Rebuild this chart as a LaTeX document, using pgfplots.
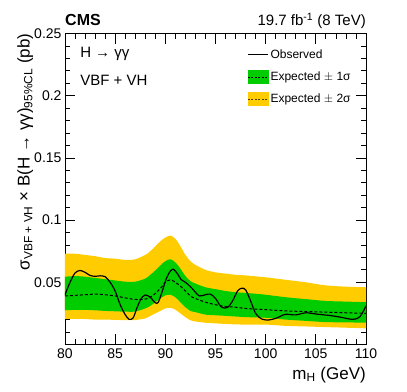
\documentclass[border=0pt]{standalone}
\usepackage{fontspec}
\setmainfont{Liberation Sans}
\usepackage{pgfplots}
\usepackage{pgfplotstable}
\pgfplotsset{compat=1.18}
\usepgfplotslibrary{fillbetween}
\definecolor{yband}{HTML}{FFCC00}
\definecolor{gband}{HTML}{00CC00}
\pgfplotstableread{
x y2d y1d exp y1u y2u
80 0.0205 0.0275 0.039 0.0545 0.073
81 0.0205 0.0278 0.0395 0.055 0.073
82 0.0205 0.0278 0.040 0.0545 0.072
83 0.020 0.0275 0.0405 0.0535 0.071
84 0.020 0.027 0.040 0.0525 0.0695
85 0.0198 0.0267 0.039 0.0515 0.069
86 0.0196 0.0264 0.0375 0.0505 0.068
87 0.0197 0.0265 0.0362 0.0505 0.0685
88 0.021 0.029 0.0365 0.053 0.072
88.5 0.023 0.031 0.038 0.056 0.075
89 0.025 0.034 0.041 0.0595 0.079
89.5 0.027 0.037 0.045 0.0635 0.083
90 0.029 0.0395 0.050 0.067 0.086
90.5 0.0295 0.040 0.052 0.0685 0.0875
91 0.028 0.038 0.050 0.066 0.085
91.5 0.025 0.034 0.047 0.061 0.079
92 0.022 0.030 0.043 0.055 0.072
92.5 0.0195 0.027 0.039 0.051 0.067
93 0.0185 0.026 0.037 0.049 0.064
94 0.0175 0.024 0.034 0.046 0.060
95 0.017 0.0235 0.032 0.0445 0.058
96 0.0165 0.023 0.0305 0.043 0.057
97 0.0162 0.0225 0.030 0.042 0.056
98 0.016 0.022 0.029 0.0415 0.0555
100 0.016 0.0215 0.028 0.040 0.054
102 0.015 0.020 0.027 0.038 0.052
104 0.0145 0.019 0.0265 0.0365 0.050
106 0.014 0.018 0.026 0.035 0.0475
108 0.0135 0.0178 0.0255 0.0345 0.0465
110 0.013 0.0175 0.025 0.034 0.046
}\bands
\pgfplotstableread{
x obs
80 0.040
80.5 0.050
81 0.0575
81.5 0.0595
82 0.058
82.5 0.0555
83 0.0548
83.5 0.0552
84 0.0545
84.5 0.050
85 0.043
85.5 0.032
86 0.024
86.4 0.0202
86.8 0.0215
87.2 0.030
87.6 0.037
88 0.0398
88.5 0.038
89 0.0335
89.3 0.034
89.7 0.043
90.1 0.053
90.5 0.059
90.8 0.0605
91.2 0.057
91.6 0.052
92 0.050
92.5 0.0465
93 0.042
93.4 0.039
94 0.040
94.5 0.0405
95 0.037
95.6 0.030
96.2 0.0298
96.7 0.035
97.2 0.043
97.6 0.0452
98 0.044
98.5 0.035
99 0.025
99.6 0.0205
100.3 0.0197
101 0.021
101.5 0.0228
102 0.0243
103 0.0238
104 0.0255
105 0.0245
106.5 0.0232
107.5 0.0219
108.7 0.0202
109.4 0.0224
110 0.031
}\observed
\begin{document}
\begin{tikzpicture}
\begin{axis}[
  at={(0pt,0pt)}, anchor=south west,
  scale only axis, width=301pt, height=311pt,
  xmin=80, xmax=110, ymin=0, ymax=0.25,
  xtick={80,85,...,110}, minor x tick num=4,
  ytick={0,0.05,0.1,0.15,0.2,0.25},
  yticklabels={,0.05,0.1,0.15,0.2,0.25},
  minor ytick={0.01,0.02,0.03,0.04,0.06,0.07,0.08,0.09,0.11,0.12,0.13,0.14,0.16,0.17,0.18,0.19,0.21,0.22,0.23,0.24},
  major tick length=10pt, minor tick length=5pt,
  tick style={black, line width=0.8pt},
  axis line style={line width=0.8pt},
  tick align=inside,
  clip mode=individual,
  /pgf/number format/assume math mode=true,
  tick label style={font=\fontsize{14}{16}\selectfont},
  xticklabel style={yshift=-1pt},
  xlabel={m\textsubscript{H} (GeV)},
  xlabel style={font=\fontsize{17}{19}\selectfont, at={(axis description cs:1,0)}, anchor=north east, inner sep=0pt, yshift=-22pt},
  ylabel={σ\textsubscript{VBF + VH} × B(H → γγ)\textsubscript{95\%CL} (pb)},
  ylabel style={font=\fontsize{17}{19}\selectfont, at={(axis description cs:-0.105,1)}, anchor=south east, inner sep=0pt},
  legend style={at={(0.605,0.955)}, anchor=north west, draw=none, fill=none,
    font=\fontsize{12}{14}\selectfont, row sep=8pt, inner sep=0pt},
  legend cell align=left,
]
\addplot[name path=y2u, draw=none, smooth, forget plot] table[x=x,y=y2u] {\bands};
\addplot[name path=y2d, draw=none, smooth, forget plot] table[x=x,y=y2d] {\bands};
\addplot[name path=y1u, draw=none, smooth, forget plot] table[x=x,y=y1u] {\bands};
\addplot[name path=y1d, draw=none, smooth, forget plot] table[x=x,y=y1d] {\bands};
\addplot[yband, forget plot] fill between[of=y2u and y2d];
\addplot[gband, forget plot] fill between[of=y1u and y1d];
\addplot[black, dashed, dash pattern=on 3pt off 2pt, line width=1pt, smooth, forget plot] table[x=x,y=exp] {\bands};
\addplot[black, line width=1.2pt, smooth, forget plot] table[x=x,y=obs] {\observed};

\addlegendimage{legend image code/.code={\draw[black, line width=1.2pt] (0pt,0pt)--(20pt,0pt);}}
\addlegendentry{Observed}
\addlegendimage{legend image code/.code={\fill[gband] (0pt,-6.5pt) rectangle (20pt,6.5pt); \draw[black, line width=0.8pt, dash pattern=on 2pt off 1.5pt] (0pt,0pt)--(20pt,0pt);}}
\addlegendentry{Expected $\pm$ 1σ}
\addlegendimage{legend image code/.code={\fill[yband] (0pt,-6.5pt) rectangle (20pt,6.5pt); \draw[black!70!yband, line width=0.8pt, dash pattern=on 2pt off 1.5pt] (0pt,0pt)--(20pt,0pt);}}
\addlegendentry{Expected $\pm$ 2σ}

\node[anchor=base west, inner sep=0pt, font=\bfseries\fontsize{16}{18}\selectfont] at (rel axis cs:0,1.025) {CMS};
\node[anchor=base east, inner sep=0pt, font=\fontsize{15}{17}\selectfont] at (rel axis cs:1,1.025) {19.7 fb\textsuperscript{-1} (8 TeV)};
\node[anchor=west, inner sep=0pt, font=\fontsize{15}{17}\selectfont] at (rel axis cs:0.05,0.935) {H → γγ};
\node[anchor=west, inner sep=0pt, font=\fontsize{15}{17}\selectfont] at (rel axis cs:0.05,0.848) {VBF + VH};
\end{axis}
\pgfresetboundingbox
\path[use as bounding box] (-65pt,-46.5pt) rectangle (342pt,344.5pt);
\end{tikzpicture}
\end{document}
